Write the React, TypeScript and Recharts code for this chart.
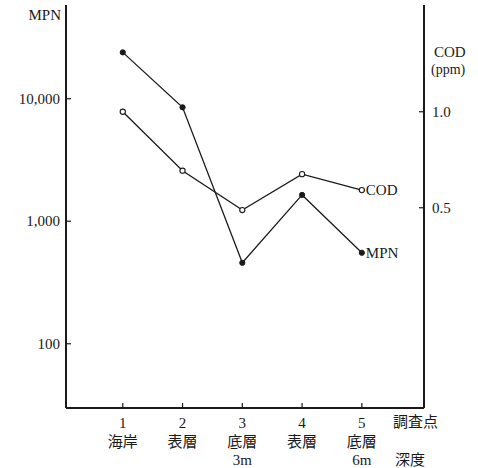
import { LineChart, Line, XAxis, YAxis } from 'recharts';

const stations = [1, 2, 3, 4, 5];
const places = ['海岸', '表層', '底層', '表層', '底層'];
const depths = ['', '', '3m', '', '6m'];
const mpn = [23900, 8510, 458, 1640, 553];
const cod = [1.0, 0.693, 0.488, 0.675, 0.592];
const mpnTicks = [100, 1000, 10000];
const codTicks = [0.5, 1.0];

const data = stations.map((s, i) => ({ station: s, place: places[i], depth: depths[i], mpn: mpn[i], cod: cod[i] }));

const FONT = "'Liberation Serif', 'Noto Sans CJK JP', serif";
const INK = '#1a1a1a';
const FS = 15;

const XTick = (p: any) => {
  const i = stations.indexOf(p.payload.value);
  return (
    <g>
      <line x1={p.x} y1={p.y} x2={p.x} y2={p.y - 5} stroke={INK} strokeWidth={1.2} />
      <text x={p.x} y={p.y + 20} textAnchor="middle" fontSize={FS} fontFamily={FONT} fill={INK}>{p.payload.value}</text>
      <text x={p.x} y={p.y + 39} textAnchor="middle" fontSize={FS} fontFamily={FONT} fill={INK}>{places[i]}</text>
      {depths[i] && <text x={p.x} y={p.y + 57} textAnchor="middle" fontSize={FS} fontFamily={FONT} fill={INK}>{depths[i]}</text>}
    </g>
  );
};

const LeftTick = (p: any) => (
  <g>
    <line x1={p.x} y1={p.y} x2={p.x + 5} y2={p.y} stroke={INK} strokeWidth={1.2} />
    <text x={p.x - 6} y={p.y + 5} textAnchor="end" fontSize={FS} fontFamily={FONT} fill={INK}>{p.payload.value.toLocaleString('en-US')}</text>
  </g>
);

const RightTick = (p: any) => (
  <g>
    <line x1={p.x - 5} y1={p.y} x2={p.x} y2={p.y} stroke={INK} strokeWidth={1.2} />
    <text x={p.x + 8} y={p.y + 5} textAnchor="start" fontSize={FS} fontFamily={FONT} fill={INK}>{p.payload.value.toFixed(1)}</text>
  </g>
);

const endLabel = (name: string) => (p: any) =>
  p.index === data.length - 1 ? (
    <text x={p.x + 4} y={p.y + 5} fontSize={FS} fontFamily={FONT} fill={INK}>{name}</text>
  ) : <g />;

const FilledDot = (p: any) => <circle cx={p.cx} cy={p.cy} r={2.6} fill={INK} stroke={INK} strokeWidth={1} />;
const OpenDot = (p: any) => <circle cx={p.cx} cy={p.cy} r={2.6} fill="#fff" stroke={INK} strokeWidth={1.1} />;

export default function App() {
  return (
    <div style={{ position: 'absolute', left: 0, top: 0, width: 478, height: 468, background: '#fff' }}>
      <LineChart width={478} height={468} data={data} margin={{ top: 5, right: 0, bottom: 0, left: 6 }}>
        <XAxis dataKey="station" type="number" domain={[0.05, 6.04]} ticks={stations} tick={<XTick />}
          tickLine={false} tickSize={0} tickMargin={0} height={60} stroke={INK} strokeWidth={2} allowDataOverflow />
        <YAxis yAxisId="mpn" scale="log" domain={[29.9, 58200]} ticks={mpnTicks} tick={<LeftTick />}
          tickLine={false} tickSize={0} tickMargin={0} width={60} stroke={INK} strokeWidth={2} allowDataOverflow />
        <YAxis yAxisId="cod" orientation="right" domain={[-0.543, 1.556]} ticks={codTicks} tick={<RightTick />}
          tickLine={false} tickSize={0} tickMargin={0} width={54} stroke={INK} strokeWidth={2} allowDataOverflow />
        <Line yAxisId="cod" dataKey="cod" stroke={INK} strokeWidth={1.3} dot={<OpenDot />} isAnimationActive={false}
          label={endLabel('COD')} />
        <Line yAxisId="mpn" dataKey="mpn" stroke={INK} strokeWidth={1.3} dot={<FilledDot />} isAnimationActive={false}
          label={endLabel('MPN')} />
      </LineChart>
      <svg width={478} height={468} style={{ position: 'absolute', left: 0, top: 0, pointerEvents: 'none' }}>
        <text x={61} y={20} textAnchor="end" fontSize={FS} fontFamily={FONT} fill={INK}>MPN</text>
        <text x={434} y={57} fontSize={FS} fontFamily={FONT} fill={INK}>COD</text>
        <text x={431} y={74} fontSize={14} fontFamily={FONT} fill={INK}>(ppm)</text>
        <text x={393} y={427} fontSize={FS} fontFamily={FONT} fill={INK}>調査点</text>
        <text x={395} y={465} fontSize={FS} fontFamily={FONT} fill={INK}>深度</text>
      </svg>
    </div>
  );
}
